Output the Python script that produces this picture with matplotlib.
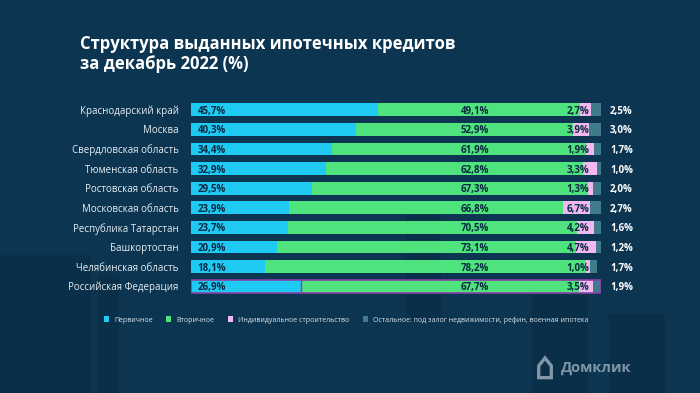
import matplotlib
matplotlib.use("Agg")
import matplotlib.pyplot as plt
from matplotlib.patches import Patch, Polygon, Rectangle
import numpy as np

plt.rcParams['font.family'] = ['Open Sans', 'DejaVu Sans']

regions = ["Краснодарский край", "Москва", "Свердловская область", "Тюменская область",
           "Ростовская область", "Московская область", "Республика Татарстан",
           "Башкортостан", "Челябинская область", "Российская Федерация"]
primary = [45.7, 40.3, 34.4, 32.9, 29.5, 23.9, 23.7, 20.9, 18.1, 26.9]
secondary = [49.1, 52.9, 61.9, 62.8, 67.3, 66.8, 70.5, 73.1, 78.2, 67.7]
individual = [2.7, 3.9, 1.9, 3.3, 1.3, 6.7, 4.2, 4.7, 1.0, 3.5]
other = [2.5, 3.0, 1.7, 1.0, 2.0, 2.7, 1.6, 1.2, 1.7, 1.9]
legend_labels = ["Первичное", "Вторичное", "Индивидуальное строительство",
                 "Остальное: под залог недвижимости, рефин, военная ипотека"]

BG = "#0b3551"
C_BLUE = "#1ec9f2"
C_GREEN = "#4ee37c"
C_PINK = "#f2b9f0"
C_GRAY = "#3e7c8b"
TXT = "#0c2a44"

def fmt(v):
    return f"{v:.1f}%".replace(".", ",")

fig = plt.figure(figsize=(7, 3.93), dpi=100, facecolor=BG)
# subtle background blocks
for (x0, y0, w, h) in [(0.0, 0.0, 0.13, 0.35), (0.14, 0.0, 0.03, 0.3), (0.58, 0.18, 0.05, 0.3),
                       (0.76, 0.0, 0.08, 0.25), (0.87, 0.0, 0.08, 0.2)]:
    fig.add_artist(Rectangle((x0, y0), w, h, transform=fig.transFigure,
                             facecolor="#0a3049", edgecolor="none", zorder=0))

ax = fig.add_axes([191/700, 1-296/393, 410/700, 196/393])
ax.set_facecolor("none")
y = np.arange(len(regions))
h = 0.66
p = np.array(primary); s = np.array(secondary); i_ = np.array(individual); o = np.array(other)
ax.barh(y, p, height=h, color=C_BLUE, edgecolor="none")
ax.barh(y, s, left=p, height=h, color=C_GREEN, edgecolor="none")
ax.barh(y, i_, left=p+s, height=h, color=C_PINK, edgecolor="none")
ax.barh(y, o, left=p+s+i_, height=h, color=C_GRAY, edgecolor="none")
# outline for Russian Federation
last = len(regions) - 1
ax.barh([last], [p[last]+s[last]+i_[last]+o[last]], height=h, color="none",
        edgecolor="#8b3fa6", linewidth=1.2)
ax.plot([p[last], p[last]], [last - h/2, last + h/2], color="#8b3fa6", lw=1.0)

for k in range(len(regions)):
    ax.text(1.6, k + 0.08, fmt(primary[k]), ha="left", va="center", fontsize=7,
            fontweight="bold", color=TXT)
    ax.text(69.3, k + 0.08, fmt(secondary[k]), ha="center", va="center", fontsize=7,
            fontweight="bold", color=TXT)
    ax.text(97.2, k + 0.08, fmt(individual[k]), ha="right", va="center", fontsize=7,
            fontweight="bold", color=TXT)
    ax.text(102.2, k + 0.08, fmt(other[k]), ha="left", va="center", fontsize=7,
            fontweight="bold", color="white")

ax.set_xlim(0, 100)
ax.set_ylim(len(regions) - 0.5, -0.5)
ax.set_yticks(y)
ax.set_yticklabels(regions, fontsize=7, color="#e8eef3")
ax.tick_params(axis="y", length=0, pad=9)
ax.set_xticks([])
for sp in ax.spines.values():
    sp.set_visible(False)

fig.text(80/700, 1-54/393, "Структура выданных ипотечных кредитов\nза декабрь 2022 (%)",
         ha="left", va="center", fontsize=12, fontweight="bold", color="white",
         linespacing=1.2)

handles = [Patch(facecolor=c, edgecolor="none") for c in [C_BLUE, C_GREEN, C_PINK, C_GRAY]]
leg = fig.legend(handles, legend_labels, loc="center left",
                 bbox_to_anchor=(98/700, 1-320/393), ncol=4, frameon=False,
                 fontsize=5, handlelength=0.7, handleheight=0.9, handletextpad=0.7,
                 columnspacing=2.0, labelcolor="#d8e2ea")

# logo
lx, ly = 545/700, 1-369/393
house = Polygon([(lx - 0.009, ly - 0.022), (lx - 0.009, ly + 0.008), (lx, ly + 0.028),
                 (lx + 0.009, ly + 0.008), (lx + 0.009, ly - 0.022)],
                closed=True, transform=fig.transFigure, facecolor="none",
                edgecolor="#7f97a6", linewidth=2.4)
fig.add_artist(house)
fig.text(lx + 0.023, ly + 0.002, "Домклик", ha="left", va="center", fontsize=10.5,
         fontweight="bold", color="#7f97a6")

fig.savefig("out.png", dpi=100, facecolor=BG)
